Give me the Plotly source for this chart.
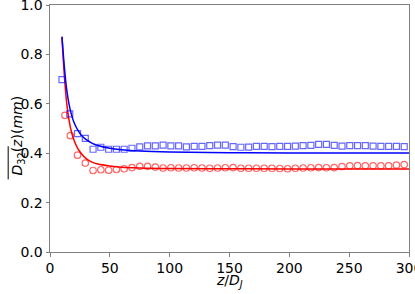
import plotly.graph_objects as go

# measured points
z_blue = [10, 16.5, 23, 29.5, 36, 42.5, 49, 55.5, 62, 68.5, 75, 81.5, 88, 94.5, 101,
          107.5, 114, 120.5, 127, 133.5, 140, 146.5, 153, 159.5, 166, 172.5, 179,
          185.5, 192, 198.5, 205, 211.5, 218, 224.5, 231, 237.5, 244, 250.5, 257,
          263.5, 270, 276.5, 283, 289.5, 296]
d_blue = [0.698, 0.559, 0.479, 0.460, 0.416, 0.424, 0.416, 0.416, 0.416, 0.420,
          0.426, 0.430, 0.430, 0.433, 0.430, 0.430, 0.426, 0.428, 0.428, 0.431,
          0.433, 0.433, 0.427, 0.424, 0.425, 0.428, 0.428, 0.427, 0.428, 0.428,
          0.429, 0.431, 0.432, 0.436, 0.436, 0.432, 0.429, 0.431, 0.431, 0.431,
          0.429, 0.428, 0.428, 0.428, 0.427]

z_red = [12.5, 17, 23, 29.5, 36, 42.5, 49, 55.5, 62, 68.5, 75, 81.5, 88, 94.5, 101,
         107.5, 114, 120.5, 127, 133.5, 140, 146.5, 153, 159.5, 166, 172.5, 179,
         185.5, 192, 198.5, 205, 211.5, 218, 224.5, 231, 237.5, 244, 250.5, 257,
         263.5, 270, 276.5, 283, 289.5, 296]
d_red = [0.553, 0.471, 0.392, 0.360, 0.330, 0.333, 0.331, 0.334, 0.337, 0.342,
         0.347, 0.347, 0.344, 0.340, 0.341, 0.340, 0.340, 0.341, 0.340, 0.339,
         0.340, 0.341, 0.342, 0.339, 0.339, 0.339, 0.339, 0.339, 0.338, 0.337,
         0.339, 0.340, 0.341, 0.342, 0.341, 0.342, 0.346, 0.349, 0.350, 0.349,
         0.349, 0.349, 0.349, 0.352, 0.354]

# fitted curves
z_fit = [10, 12, 14, 16, 18, 20, 23, 26, 30, 35, 40, 50, 60, 75, 100, 150, 200, 300]
fit_blue = [0.872, 0.749, 0.656, 0.596, 0.555, 0.525, 0.495, 0.474, 0.456, 0.441,
            0.431, 0.420, 0.414, 0.409, 0.405, 0.402, 0.401, 0.401]
fit_red = [0.870, 0.714, 0.601, 0.531, 0.485, 0.453, 0.421, 0.400, 0.379, 0.364,
           0.356, 0.348, 0.343, 0.340, 0.338, 0.337, 0.336, 0.336]

x_ticks = [0, 50, 100, 150, 200, 250, 300]
y_ticks = [0.0, 0.2, 0.4, 0.6, 0.8, 1.0]

x_title = "<i>z</i>/<i>D</i><sub><i>J</i></sub>"
y_title = "<i>D</i><sub>32</sub>(<i>z</i>)(<i>mm</i>)"

FONT = "DejaVu Sans"
fig = go.Figure()
fig.add_trace(go.Scatter(x=z_fit, y=fit_red, mode="lines", line=dict(color="#ff0000", width=1.5, shape="spline")))
fig.add_trace(go.Scatter(x=z_fit, y=fit_blue, mode="lines", line=dict(color="#0000ff", width=1.5, shape="spline")))
fig.add_trace(go.Scatter(x=z_blue, y=d_blue, mode="markers",
                         marker=dict(symbol="square-open", size=6, color="rgba(0,0,255,0.6)", line=dict(width=1.2))))
fig.add_trace(go.Scatter(x=z_red, y=d_red, mode="markers",
                         marker=dict(symbol="circle-open", size=6.5, color="rgba(255,0,0,0.6)", line=dict(width=1.2))))

axis_common = dict(showline=True, mirror=True, linecolor="#808080", linewidth=1,
                   ticks="outside", ticklen=3.5, tickcolor="#808080", showgrid=False,
                   zeroline=False, automargin=False, ticklabeloverflow="allow",
                   tickfont=dict(family=FONT, size=14, color="black"))
fig.update_xaxes(range=[0, 300], tickvals=x_ticks, ticktext=[str(v) for v in x_ticks], **axis_common)
fig.update_yaxes(range=[0, 1], tickvals=y_ticks, ticktext=[f"{v:.1f}" for v in y_ticks], **axis_common)
fig.add_annotation(text=x_title, xref="paper", yref="paper", x=0.5, y=-0.118,
                   xanchor="center", yanchor="middle", showarrow=False,
                   font=dict(family=FONT, size=14, color="black"))
fig.add_annotation(text=y_title, xref="paper", yref="paper", x=-0.09, y=0.47,
                   xanchor="center", yanchor="middle", textangle=-90, showarrow=False,
                   font=dict(family=FONT, size=14, color="black"))
# overline of the mean symbol in the y title
fig.add_shape(type="line", xref="paper", yref="paper", x0=-0.1165, x1=-0.1165,
              y0=0.294, y1=0.428, line=dict(color="black", width=1))
fig.update_layout(width=415, height=294, margin=dict(l=50, r=6, t=5, b=42),
                  plot_bgcolor="white", paper_bgcolor="white", showlegend=False,
                  font=dict(family=FONT))
fig.write_html("out.html", config={"displayModeBar": False},
               post_script="document.body.style.margin='0px';")
